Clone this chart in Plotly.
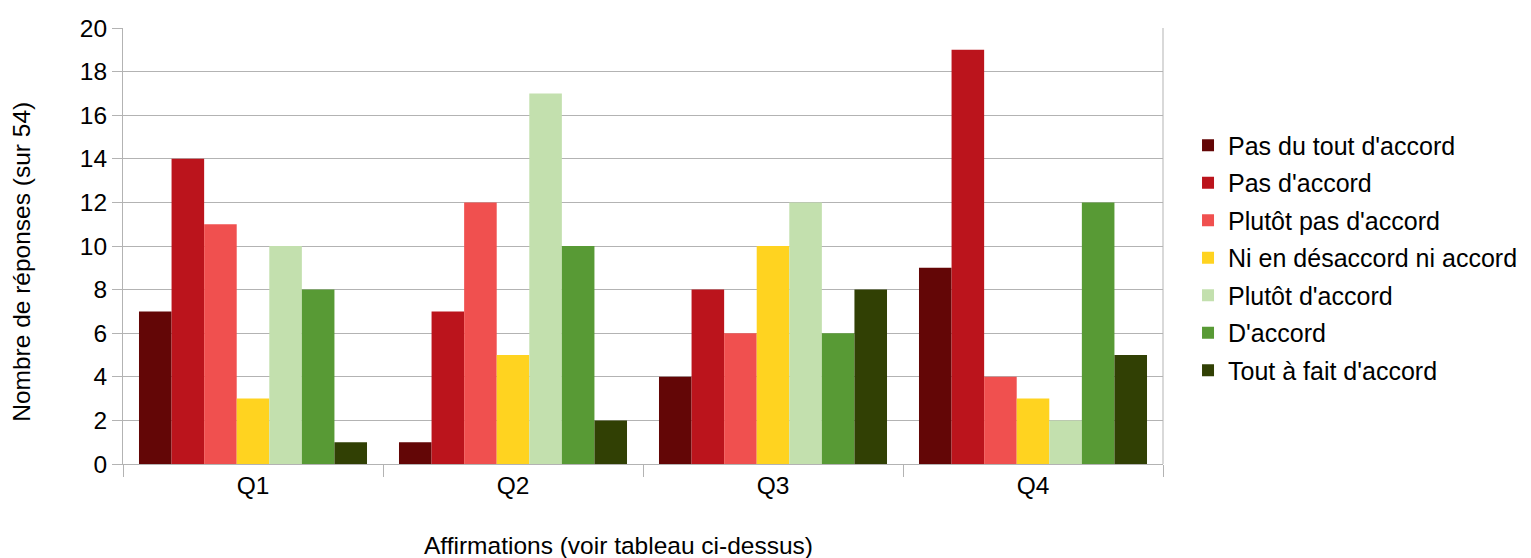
import plotly.graph_objects as go

categories = ["Q1", "Q2", "Q3", "Q4"]
series_names = [
    "Pas du tout d'accord",
    "Pas d'accord",
    "Plutôt pas d'accord",
    "Ni en désaccord ni accord",
    "Plutôt d'accord",
    "D'accord",
    "Tout à fait d'accord",
]
pas_du_tout = [7, 1, 4, 9]
pas_accord = [14, 7, 8, 19]
plutot_pas = [11, 12, 6, 4]
ni_ni = [3, 5, 10, 3]
plutot_accord = [10, 17, 12, 2]
accord = [8, 10, 6, 12]
tout_a_fait = [1, 2, 8, 5]
series_values = [pas_du_tout, pas_accord, plutot_pas, ni_ni, plutot_accord, accord, tout_a_fait]
colors = ["#630606", "#BB141C", "#F0504F", "#FFD320", "#C3E0AE", "#589A35", "#314004"]
y_ticks = list(range(0, 21, 2))

FONT = "Liberation Sans, Arial, sans-serif"

fig = go.Figure()
for name, vals, col in zip(series_names, series_values, colors):
    fig.add_trace(go.Bar(x=categories, y=vals, name=name, marker_color=col,
                         marker_line_width=0, legendgroup=name))

grid = "#b3b3b3"
fig.update_layout(
    width=1523, height=550,
    margin=dict(l=115, r=368, t=20, b=94, autoexpand=False),
    paper_bgcolor="white", plot_bgcolor="white",
    barmode="group", bargap=0.123, bargroupgap=0,
    font=dict(family=FONT, size=24, color="#000000"),
    showlegend=True,
    legend=dict(xref="container", yref="container", x=0.7748, y=0.5455,
                xanchor="left", yanchor="middle",
                font=dict(size=25), tracegroupgap=2,
                itemwidth=30, bgcolor="rgba(0,0,0,0)"),
    xaxis=dict(type="category", tickson="boundaries", ticks="outside", ticklen=12,
               tickcolor=grid, showline=True, linecolor=grid, linewidth=1,
               showgrid=False, tickfont=dict(size=24.5), zeroline=False, automargin=False),
    yaxis=dict(range=[0, 20], tickvals=y_ticks, ticks="outside", ticklen=10,
               tickcolor=grid, showline=True, linecolor=grid, linewidth=1,
               showgrid=True, gridcolor=grid, gridwidth=1, zeroline=False,
               tickfont=dict(size=24.5), automargin=False),
)
fig.add_shape(type="line", xref="paper", yref="paper", x0=1, x1=1, y0=0, y1=1,
              line=dict(color=grid, width=1))
fig.add_annotation(text="Affirmations (voir tableau ci-dessus)", xref="paper", yref="paper",
                   x=0.476, y=-0.186, yanchor="middle", showarrow=False, font=dict(size=24.5))
fig.add_annotation(text="Nombre de réponses (sur 54)", xref="paper", yref="paper",
                   x=-0.097, y=0.464, xanchor="center", yanchor="middle", textangle=-90,
                   showarrow=False, font=dict(size=24.5))

fig.write_html("out.html")
